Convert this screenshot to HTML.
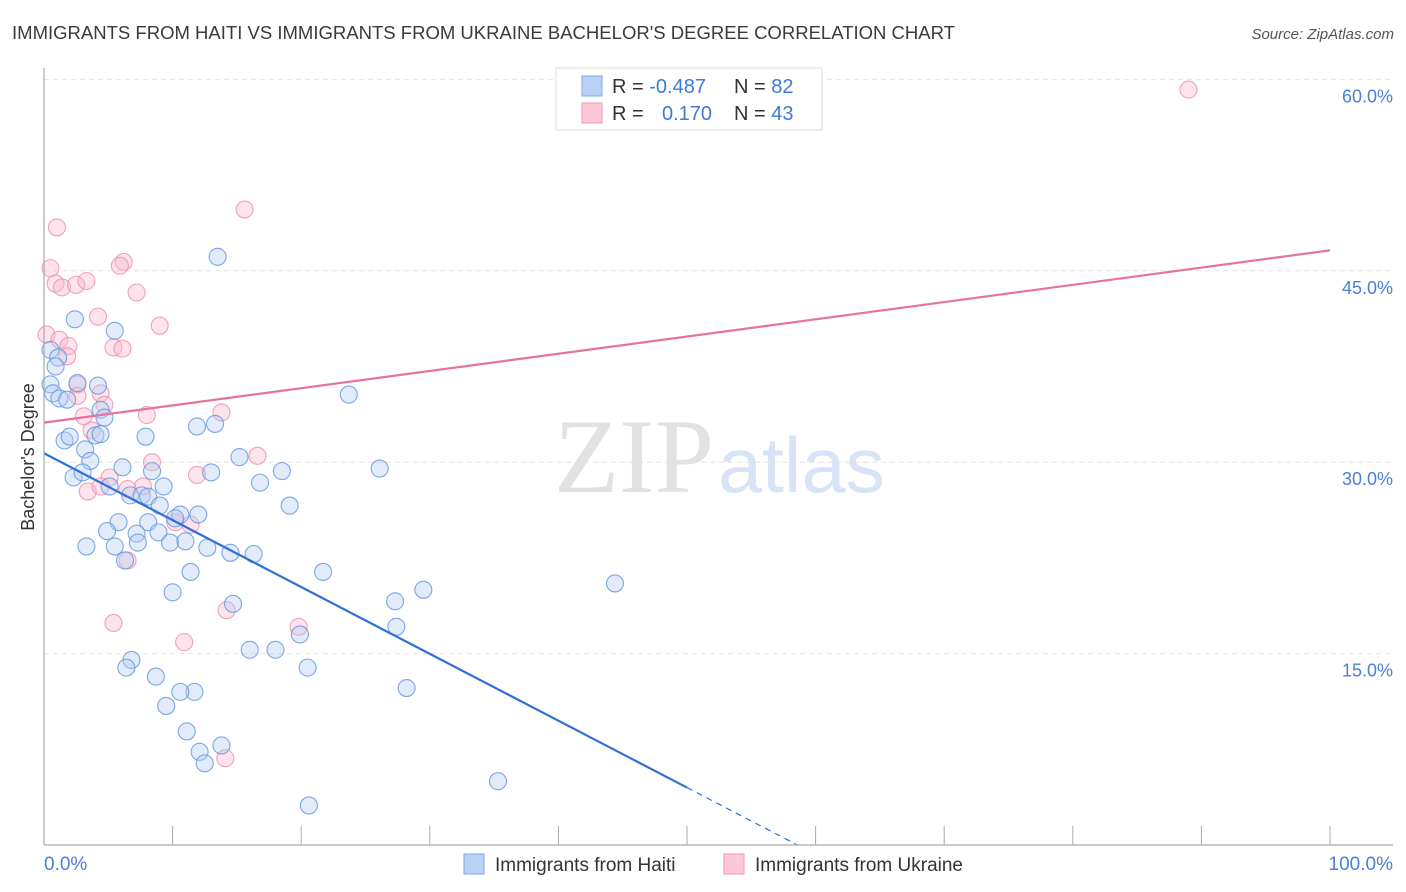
<!DOCTYPE html>
<html><head><meta charset="utf-8"><style>
body{margin:0;background:#fff;font-family:"Liberation Sans",sans-serif;}
svg{display:block}
</style></head><body>
<svg width="1406" height="892" viewBox="0 0 1406 892" xmlns="http://www.w3.org/2000/svg" id="chart">
<text x="12" y="39" font-size="18" fill="#3a3a3a" textLength="943" lengthAdjust="spacingAndGlyphs">IMMIGRANTS FROM HAITI VS IMMIGRANTS FROM UKRAINE BACHELOR'S DEGREE CORRELATION CHART</text>
<text x="1394" y="39" font-size="15" fill="#555" text-anchor="end" font-style="italic">Source: ZipAtlas.com</text>
<text x="714" y="492" font-size="106" fill="#e2e2e2" text-anchor="end" font-family="Liberation Serif" textLength="160" lengthAdjust="spacingAndGlyphs">ZIP</text>
<text x="718" y="492" font-size="78" fill="#d8e4f6" textLength="167" lengthAdjust="spacingAndGlyphs">atlas</text>
<g id="grid"></g>
<g id="marks"></g>
<g id="lines"></g>
<line x1="44" y1="68" x2="44" y2="845" stroke="#aaa" stroke-width="1.2"/>
<line x1="44" y1="845" x2="1393" y2="845" stroke="#aaa" stroke-width="1.2"/>
<text transform="translate(34,457) rotate(-90)" font-size="18" fill="#333" text-anchor="middle">Bachelor's Degree</text>
<text x="44" y="870" font-size="19" fill="#4a7fd4">0.0%</text>
<text x="1393" y="870" font-size="19" fill="#4a7fd4" text-anchor="end">100.0%</text>
<g>
<rect x="556" y="68" width="266" height="62" fill="#fff" stroke="#ddd"/>
<rect x="582" y="76" width="20" height="20" fill="#b9d1f5" stroke="#7fa7e6"/>
<rect x="582" y="103" width="20" height="20" fill="#fcc8d8" stroke="#ef9ab5"/>
<text x="612" y="93" font-size="20" fill="#333">R = <tspan fill="#3f7ad6">-0.487</tspan><tspan x="734">N = </tspan><tspan fill="#3f7ad6">82</tspan></text>
<text x="612" y="120" font-size="20" fill="#333">R = <tspan x="662" fill="#3f7ad6">0.170</tspan><tspan x="734">N = </tspan><tspan fill="#3f7ad6">43</tspan></text>
</g>
<g>
<rect x="464" y="854" width="20" height="20" fill="#b9d1f5" stroke="#7fa7e6"/>
<text x="495" y="871" font-size="19" fill="#333">Immigrants from Haiti</text>
<rect x="724" y="854" width="20" height="20" fill="#fcc8d8" stroke="#ef9ab5"/>
<text x="755" y="871" font-size="19" fill="#333">Immigrants from Ukraine</text>
</g>
</svg>
<script>
const yTicks=[15,30,45,60];
const yTickLabels=["15.0%","30.0%","45.0%","60.0%"];
const xTicks=[0,10,20,30,40,50,60,70,80,90,100];
const haitiX=[13.5,2.4,5.5,0.5,1.1,0.9,0.5,2.6,4.2,0.7,1.2,1.8,4.4,4.7,4.0,7.9,1.6,2.0,3.2,3.6,6.1,8.4,13.0,18.5,26.1,15.2,2.3,3.0,5.1,9.3,6.7,7.6,8.1,9.0,13.3,11.9,23.7,16.8,19.1,10.6,12.0,10.2,8.1,5.8,4.9,7.2,8.9,7.3,9.8,11.0,3.3,5.5,12.7,14.5,16.3,6.3,11.4,21.7,10.0,14.7,27.3,29.5,44.4,27.4,19.9,16.0,18.0,20.5,6.8,6.4,8.7,28.2,11.7,10.6,9.5,11.1,13.8,12.1,12.5,35.3,20.6,4.4];
const haitiY=[46.1,41.2,40.3,38.8,38.2,37.5,36.1,36.2,36.0,35.4,35.0,34.9,34.1,33.5,32.1,32.0,31.7,32.0,31.0,30.1,29.6,29.3,29.2,29.3,29.5,30.4,28.8,29.2,28.1,28.1,27.4,27.4,27.3,26.6,33.0,32.8,35.3,28.4,26.6,25.9,25.9,25.6,25.3,25.3,24.6,24.4,24.5,23.7,23.7,23.8,23.4,23.4,23.3,22.9,22.8,22.3,21.4,21.4,19.8,18.9,19.1,20.0,20.5,17.1,16.5,15.3,15.3,13.9,14.5,13.9,13.2,12.3,12.0,12.0,10.9,8.9,7.8,7.3,6.4,5.0,3.1,32.2];
const ukraineX=[89.0,15.6,1.0,0.5,0.9,1.4,2.5,3.3,6.2,5.9,7.2,4.2,9.0,0.2,1.2,1.9,1.8,5.4,6.1,2.6,4.4,4.7,2.6,3.1,3.7,8.0,13.8,8.4,16.6,11.9,5.1,6.5,3.4,4.4,7.7,10.2,11.4,6.5,14.2,5.4,19.8,10.9,14.1];
const ukraineY=[59.2,49.8,48.4,45.2,44.0,43.7,43.9,44.2,45.7,45.4,43.3,41.4,40.7,40.0,39.6,39.1,38.3,39.0,38.9,36.1,35.4,34.5,35.2,33.6,32.5,33.7,33.9,30.0,30.5,29.0,28.8,27.9,27.7,28.1,28.1,25.3,25.1,22.3,18.4,17.4,17.1,15.9,6.8];
const haitiTrend=[30.7,-0.524];
const ukraineTrend=[33.1,0.135];

const NS="http://www.w3.org/2000/svg";
const X0=44,X1=1330,Y0=845,YPER=12.76;
function xs(v){return X0+(X1-X0)*v/100;}
function ys(v){return Y0-v*YPER;}
function mk(tag,attrs,parent){const e=document.createElementNS(NS,tag);for(const k in attrs)e.setAttribute(k,attrs[k]);parent.appendChild(e);return e;}
const grid=document.getElementById('grid'),marks=document.getElementById('marks'),lines=document.getElementById('lines');
yTicks.forEach((t,i)=>{
  const l=mk('line',{x1:44,x2:1393,y1:ys(t),y2:ys(t),stroke:'#e2e2e2','stroke-dasharray':'5,4'},grid);
  
  
  const tx=mk('text',{x:1393,y:ys(t)+23,'font-size':18,fill:'#4a7fd4','text-anchor':'end'},grid);
  tx.textContent=yTickLabels[i];
  
  
});
xTicks.forEach(t=>{
  const l=mk('line',{x1:xs(t),x2:xs(t),y1:826,y2:845,stroke:'#aaa'},grid);
  
  
});
function pts(X,Y,fill,stroke,name){
  X.forEach((x,i)=>{
    const c=mk('circle',{cx:xs(x),cy:ys(Y[i]),r:8.5,fill:fill,'fill-opacity':0.4,stroke:stroke,'stroke-opacity':0.8,'stroke-width':1.1},marks);
    
    
  });
}
pts(ukraineX,ukraineY,'#fbb8cc','#ec8fab','ukraine-point');
pts(haitiX,haitiY,'#b3cdf3','#5f93e0','haiti-point');
const hxEnd=50,hxZero=-haitiTrend[0]/haitiTrend[1];
let l=mk('line',{x1:xs(0),y1:ys(haitiTrend[0]),x2:xs(hxEnd),y2:ys(haitiTrend[0]+haitiTrend[1]*hxEnd),stroke:'#2e6fd8','stroke-width':2.2},lines);


l=mk('line',{x1:xs(hxEnd),y1:ys(haitiTrend[0]+haitiTrend[1]*hxEnd),x2:xs(hxZero),y2:ys(0),stroke:'#2e6fd8','stroke-width':1.2,'stroke-dasharray':'6,5'},lines);


l=mk('line',{x1:xs(0),y1:ys(ukraineTrend[0]),x2:xs(100),y2:ys(ukraineTrend[0]+ukraineTrend[1]*100),stroke:'#e8739a','stroke-width':2.2},lines);


</script>
</body></html>
